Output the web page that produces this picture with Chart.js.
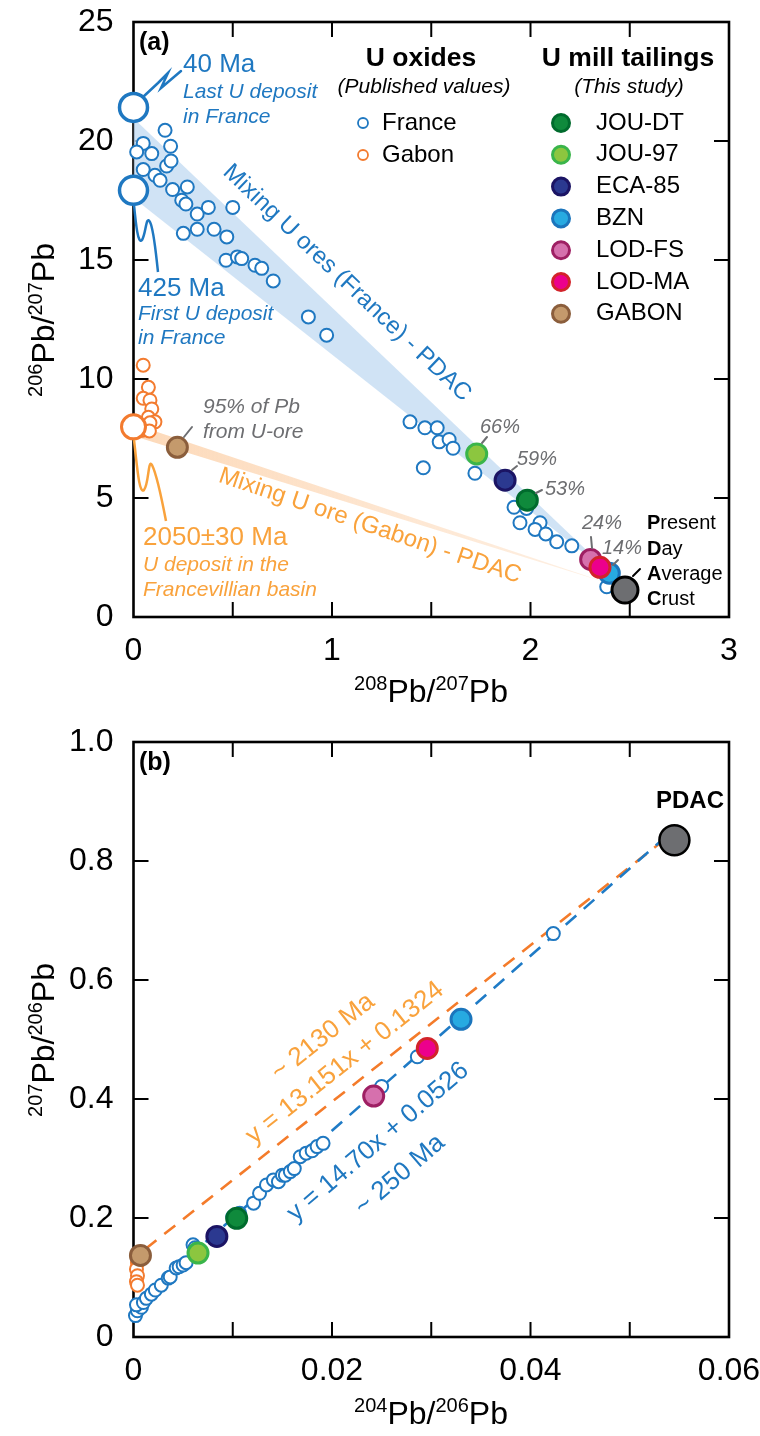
<!DOCTYPE html>
<html><head><meta charset="utf-8">
<script src="https://cdn.jsdelivr.net/npm/chart.js@4.4.1/dist/chart.umd.min.js"></script>
<style>
html,body{margin:0;padding:0;background:#fff;}
#wrap{position:relative;width:760px;height:1436px;overflow:hidden;}
canvas{position:absolute;left:0;}
</style></head><body>
<div id="wrap">
<canvas id="ca" width="820" height="750" style="top:-40px;width:820px;height:750px"></canvas>
<canvas id="cb" width="820" height="750" style="top:690px;width:820px;height:750px"></canvas>
</div>
<script>
// ================= DATA =================
// Panel (a): x = 208Pb/207Pb, y = 206Pb/207Pb
const a_franceOxides = [[0.159,20.45],[0.049,19.90],[0.016,19.54],[0.092,19.47],[0.187,19.78],[0.049,18.80],[0.108,18.56],[0.134,18.35],[0.167,18.95],[0.189,19.16],[0.197,17.96],[0.271,18.07],[0.243,17.51],[0.264,17.35],[0.321,16.93],[0.377,17.21],[0.50,17.21],[0.251,16.12],[0.321,16.29],[0.406,16.29],[0.47,15.97],[0.466,14.99],[0.523,15.13],[0.545,15.06],[0.612,14.78],[0.646,14.65],[0.704,14.12],[0.881,12.61],[0.973,11.84],[1.393,8.20],[1.468,7.95],[1.53,7.95],[1.54,7.36],[1.59,7.46],[1.61,7.09],[1.46,6.27],[1.72,6.04],[1.917,4.61],[1.98,4.56],[1.947,3.96],[2.048,3.96],[2.023,3.68],[2.077,3.49],[2.132,3.16],[2.208,2.99],[2.384,1.27]];
const a_gabonOxides = [[0.049,10.58],[0.075,9.65],[0.049,9.19],[0.083,9.11],[0.092,8.74],[0.075,8.39],[0.108,8.20],[0.083,8.16],[0.046,7.85],[0.080,7.82]];
const a_franceEndmembers = [[0,21.41],[0,17.93]];   // 40 Ma, 425 Ma
const a_gabonEndmember = [[0,7.99]];                // 2050±30 Ma
const tailingNames = ['JOU-DT','JOU-97','ECA-85','BZN','LOD-FS','LOD-MA','GABON'];
const a_tailings = [[1.984,4.91],[1.729,6.85],[1.872,5.75],[2.397,1.84],[2.303,2.42],[2.350,2.09],[0.221,7.13]];
const a_pdac = [[2.476,1.13]];
const a_franceBand = [[0,20.96],[2.44,1.55],[0,17.60]];
const a_gabonBand = [[0,8.11],[2.40,1.40],[0,7.60]];
const a_xTicks = [0,0.5,1,1.5,2,2.5,3];
const a_yTicks = [0,5,10,15,20,25];

// Panel (b): x = 204Pb/206Pb, y = 207Pb/206Pb
const b_franceOxides = [[0.0002,0.036],[0.0004,0.044],[0.0008,0.050],[0.0003,0.054],[0.0010,0.058],[0.0013,0.065],[0.0018,0.072],[0.0022,0.079],[0.0028,0.087],[0.0035,0.099],[0.0037,0.101],[0.0043,0.116],[0.0046,0.118],[0.0050,0.121],[0.0053,0.125],[0.0060,0.155],[0.0062,0.150],[0.0100,0.202],[0.0107,0.208],[0.0121,0.225],[0.0127,0.2415],[0.0134,0.2555],[0.0141,0.264],[0.0146,0.261],[0.0150,0.272],[0.0153,0.272],[0.0158,0.278],[0.0162,0.283],[0.0168,0.303],[0.0174,0.309],[0.0180,0.313],[0.0185,0.320],[0.0191,0.3255],[0.0250,0.421],[0.0286,0.471],[0.0423,0.678]];
const b_gabonOxides = [[0.0004,0.125],[0.0003,0.114],[0.0004,0.103],[0.0003,0.093],[0.0004,0.087]];
const b_tailings = [[0.0104,0.1995],[0.0065,0.141],[0.0084,0.169],[0.0330,0.534],[0.0242,0.405],[0.0296,0.485],[0.0007,0.137]];
const b_pdac = [[0.0545,0.835]];
const b_fitGabon = [[0.0012,0.148],[0.0535,0.836]];   // y = 13.151x + 0.1324
const b_fitFrance = [[0.0000,0.053],[0.0535,0.839]];  // y = 14.70x + 0.0526
const b_xTicks = [0,0.01,0.02,0.03,0.04,0.05,0.06];
const b_yTicks = [0,0.2,0.4,0.6,0.8,1.0];

// ================= STYLE =================
const FONT = '"Liberation Sans", Arial, Helvetica, sans-serif';
const BLUE = '#1f78c1', ORANGE = '#f37b2f', LORANGE = '#f9a23c', GRAY = '#6d6e71';
const tailFill = ['#0f8a3c','#8cc63f','#2b3990','#27aae1','#d670ad','#ec008c','#c49a6c'];
const tailBorder = ['#006b2d','#3ab54a','#1b1464','#1b75bc','#9e1f63','#d2232a','#8b5e3c'];

const pts = arr => arr.map(p => ({x:p[0], y:p[1]}));

function txt(c, s, x, y, o){
  o = o||{};
  c.save();
  c.font = (o.style||'normal')+' '+(o.weight||'normal')+' '+(o.size||20)+'px '+FONT;
  c.fillStyle = o.color||'#000';
  c.textAlign = o.align||'left';
  c.textBaseline = 'middle';
  c.translate(x,y);
  if (o.rot) c.rotate(o.rot*Math.PI/180);
  c.fillText(s,0,0);
  c.restore();
}
function isoTitle(c, segs, cx, cy, rot){
  const big=32, small=20;
  c.save(); c.translate(cx,cy); c.rotate(rot*Math.PI/180);
  c.fillStyle='#000'; c.textBaseline='alphabetic';
  let w=0;
  segs.forEach(s=>{c.font=(s[1]?small:big)+'px '+FONT; s.w=c.measureText(s[0]).width; w+=s.w;});
  let x=-w/2; const base=0.36*big;
  segs.forEach(s=>{c.font=(s[1]?small:big)+'px '+FONT;
    c.fillText(s[0], x, s[1] ? base-0.716*big+0.716*small-3 : base); x+=s.w;});
  c.restore();
}
function line(c, p, color, w){
  c.save(); c.strokeStyle=color; c.lineWidth=w||2; c.lineCap='round';
  c.beginPath(); c.moveTo(p[0][0],p[0][1]);
  for(let i=1;i<p.length;i++) c.lineTo(p[i][0],p[i][1]);
  c.stroke(); c.restore();
}

const framePlugin = {
  id:'frame',
  beforeDatasetsDraw(chart){
    const c=chart.ctx, a=chart.chartArea, X=chart.scales.x, Y=chart.scales.y;
    c.save(); c.strokeStyle='#000'; c.lineWidth=2;
    const L=15;
    X.ticks.forEach(t=>{ if(t.value<=X.min||t.value>=X.max) return;
      const p=X.getPixelForValue(t.value);
      c.beginPath(); c.moveTo(p,a.bottom); c.lineTo(p,a.bottom-L); c.moveTo(p,a.top); c.lineTo(p,a.top+L); c.stroke();});
    Y.ticks.forEach(t=>{ if(t.value<=Y.min||t.value>=Y.max) return;
      const p=Y.getPixelForValue(t.value);
      c.beginPath(); c.moveTo(a.left,p); c.lineTo(a.left+L,p); c.moveTo(a.right,p); c.lineTo(a.right-L,p); c.stroke();});
    c.lineWidth=2.6;
    c.strokeRect(a.left,a.top,a.right-a.left,a.bottom-a.top);
    c.restore();
  }
};

function scaleOpts(min,max,ticksArr,fmt,isX,size){
  return {
    type:'linear', min:min, max:max,
    afterBuildTicks: s => { s.ticks = ticksArr.map(v=>({value:v})); },
    afterFit: s => { if(isX) s.height=size; else s.width=size; },
    grid:{display:false, drawTicks:false},
    border:{display:false},
    ticks:{ autoSkip:false, maxRotation:0, padding: isX?15:20, color:'#000',
      font:{family:FONT,size:32}, callback: fmt }
  };
}

function fitArea(chart, pad, want){
  for(let i=0;i<6;i++){
    const a=chart.chartArea;
    const dT=want.top-a.top, dR=a.right-want.right, dB=a.bottom-want.bottom, dL=want.left-a.left;
    if(Math.abs(dT)+Math.abs(dR)+Math.abs(dB)+Math.abs(dL)<0.3) break;
    pad.top=Math.max(0,pad.top+dT); pad.right=Math.max(0,pad.right+dR);
    pad.bottom=Math.max(0,pad.bottom+dB); pad.left=Math.max(0,pad.left+dL);
    chart.update('none');
  }
}

// ================= PANEL A =================
const dsA = [];
dsA.push({type:'line', data:pts(a_franceBand), fill:'shape', backgroundColor:'rgba(196,220,243,0.8)', borderWidth:0, pointRadius:0, order:30, clip:false});
dsA.push({type:'line', data:pts(a_gabonBand), fill:'shape', borderWidth:0, pointRadius:0, order:29, clip:false,
  backgroundColor: (ctx)=>{ const ch=ctx.chart, ar=ch.chartArea; if(!ar) return 'rgba(252,210,170,0.6)';
    const g=ch.ctx.createLinearGradient(ar.left,0,ch.scales.x.getPixelForValue(2.4),0);
    g.addColorStop(0,'rgba(252,208,168,0.8)'); g.addColorStop(1,'rgba(252,208,168,0.3)'); return g; }});
dsA.push({label:'France', data:pts(a_franceOxides), pointRadius:6.5, borderWidth:2, borderColor:BLUE, backgroundColor:'#fff', order:8, clip:false});
dsA.push({label:'Gabon', data:pts(a_gabonOxides), pointRadius:6.5, borderWidth:2, borderColor:ORANGE, backgroundColor:'#fff', order:8, clip:false});
dsA.push({data:pts(a_franceEndmembers), pointRadius:14, borderWidth:3.5, borderColor:BLUE, backgroundColor:'#fff', order:7, clip:false});
dsA.push({data:pts(a_gabonEndmember), pointRadius:12, borderWidth:3, borderColor:ORANGE, backgroundColor:'#fff', order:7, clip:false});
tailingNames.forEach((n,i)=>dsA.push({label:n, data:pts([a_tailings[i]]), pointRadius:10, borderWidth:3, borderColor:tailBorder[i], backgroundColor:tailFill[i], order:5-i*0.1, clip:false}));
dsA.push({label:'PDAC', data:pts(a_pdac), pointRadius:13, borderWidth:3, borderColor:'#000', backgroundColor:GRAY, order:1, clip:false});

const annotA = {
  id:'annotA',
  afterDraw(chart){
    const c=chart.ctx;
    c.save(); c.translate(0,40); // page coordinates
    isoTitle(c, [['206',1],['Pb/',0],['207',1],['Pb',0]], 42, 320, -90);
    isoTitle(c, [['208',1],['Pb/',0],['207',1],['Pb',0]], 431, 690, 0);
    txt(c,'(a)',139,43,{size:25,weight:'bold'});
    // France endmembers
    txt(c,'40 Ma',183,65,{size:26,color:BLUE});
    txt(c,'Last U deposit',183,92,{size:21,style:'italic',color:BLUE});
    txt(c,'in France',183,117,{size:21,style:'italic',color:BLUE});
    line(c,[[143,97],[158,83],[168,73],[161,88],[181,71]],BLUE,2.5);
    txt(c,'425 Ma',138,289,{size:26,color:BLUE});
    txt(c,'First U deposit',138,314,{size:21,style:'italic',color:BLUE});
    txt(c,'in France',138,338,{size:21,style:'italic',color:BLUE});
    c.save(); c.strokeStyle=BLUE; c.lineWidth=2.5; c.beginPath();
    c.moveTo(134,205); c.bezierCurveTo(136,225,138,245,142,240); c.bezierCurveTo(146,234,146,214,150,222); c.bezierCurveTo(154,230,156,255,158,272); c.stroke(); c.restore();
    // Gabon endmember
    txt(c,'2050\u00B130 Ma',143,538,{size:26,color:LORANGE});
    txt(c,'U deposit in the',143,565,{size:21,style:'italic',color:LORANGE});
    txt(c,'Francevillian basin',143,590,{size:21,style:'italic',color:LORANGE});
    c.save(); c.strokeStyle=LORANGE; c.lineWidth=2.5; c.beginPath();
    c.moveTo(134,440); c.bezierCurveTo(137,465,139,495,144,490); c.bezierCurveTo(149,484,148,458,152,465); c.bezierCurveTo(157,475,162,500,166,521); c.stroke(); c.restore();
    txt(c,'95% of Pb',203,407,{size:21,style:'italic',color:GRAY});
    txt(c,'from U-ore',203,432,{size:21,style:'italic',color:GRAY});
    line(c,[[184,437],[192,427]],GRAY,2);
    // mixing labels
    txt(c,'Mixing U ores (France) - PDAC',347,283,{size:24,color:BLUE,align:'center',rot:43.5});
    txt(c,'Mixing U ore (Gabon) - PDAC',370,526,{size:24,color:LORANGE,align:'center',rot:18.7});
    // percentages
    const pc=[['66%',500,427,[[482,443],[487,437]]],['59%',537,459,[[512,470],[517,466]]],['53%',565,489,[[536,493],[542,490]]],['24%',602,523,[[591,537],[592,548]]],['14%',622,548,[[613,565],[618,560]]]];
    pc.forEach(p=>{ txt(c,p[0],p[1],p[2],{size:20,style:'italic',color:GRAY,align:'center'}); line(c,p[3],GRAY,2); });
    line(c,[[633,576],[640,569]],'#000',2);
    const pd=[['P','resent',523],['D','ay',549],['A','verage',574],['C','rust',599]];
    pd.forEach(p=>{ c.save(); c.font='bold 20px '+FONT; const w=c.measureText(p[0]).width; c.restore();
      txt(c,p[0],647,p[2],{size:20,weight:'bold'}); txt(c,p[1],647+w,p[2],{size:20}); });
    // legend
    txt(c,'U oxides',421,59,{size:26.5,weight:'bold',align:'center'});
    txt(c,'(Published values)',424,87,{size:21,style:'italic',align:'center'});
    const circ=(x,y,r,f,s,w)=>{c.save();c.beginPath();c.arc(x,y,r,0,Math.PI*2);c.fillStyle=f;c.fill();c.lineWidth=w;c.strokeStyle=s;c.stroke();c.restore();};
    circ(363,123,5,'#fff',BLUE,1.8); txt(c,'France',382,123,{size:24});
    circ(363,155,5,'#fff',ORANGE,1.8); txt(c,'Gabon',382,155,{size:24});
    txt(c,'U mill tailings',628,59,{size:26.5,weight:'bold',align:'center'});
    txt(c,'(This study)',629,87,{size:21,style:'italic',align:'center'});
    tailingNames.forEach((n,i)=>{ const y=123+i*31.8; circ(561,y,8.5,tailFill[i],tailBorder[i],3); txt(c,n,596,y,{size:24}); });
    c.restore();
  }
};

const padA = {left:0,right:91,top:62,bottom:0};
const chartA = new Chart(document.getElementById('ca'), {
  type:'scatter',
  data:{datasets:dsA},
  options:{
    responsive:false, animation:false, devicePixelRatio:1,
    layout:{padding:padA},
    plugins:{legend:{display:false}, tooltip:{enabled:false}},
    scales:{
      x: scaleOpts(0,3,a_xTicks, v => Number.isInteger(v)? String(v) : '', true, 93),
      y: scaleOpts(0,25,a_yTicks, v => String(v), false, 133)
    }
  },
  plugins:[framePlugin, annotA]
});
fitArea(chartA, padA, {left:133.5, right:729, top:62, bottom:657});

// ================= PANEL B =================
const dsB = [];
dsB.push({type:'line', data:pts(b_fitGabon), borderColor:'#f47b2a', borderWidth:2.6, borderDash:[14,10], pointRadius:0, fill:false, order:30, clip:false});
dsB.push({type:'line', data:pts(b_fitFrance), borderColor:'#1f7bc6', borderWidth:2.6, borderDash:[14,10], pointRadius:0, fill:false, order:29, clip:false});
dsB.push({label:'France', data:pts(b_franceOxides), pointRadius:6.5, borderWidth:2, borderColor:BLUE, backgroundColor:'#fff', order:8, clip:false});
dsB.push({label:'Gabon', data:pts(b_gabonOxides), pointRadius:6.5, borderWidth:2, borderColor:ORANGE, backgroundColor:'#fff', order:8, clip:false});
tailingNames.forEach((n,i)=>dsB.push({label:n, data:pts([b_tailings[i]]), pointRadius:10, borderWidth:3, borderColor:tailBorder[i], backgroundColor:tailFill[i], order:5-i*0.1, clip:false}));
dsB.push({label:'PDAC', data:pts(b_pdac), pointRadius:15, borderWidth:2.5, borderColor:'#000', backgroundColor:GRAY, order:1, clip:false});

const annotB = {
  id:'annotB',
  afterDraw(chart){
    const c=chart.ctx;
    c.save(); c.translate(0,-690); // page coordinates
    isoTitle(c, [['207',1],['Pb/',0],['206',1],['Pb',0]], 42, 1040, -90);
    isoTitle(c, [['204',1],['Pb/',0],['206',1],['Pb',0]], 431, 1412, 0);
    txt(c,'(b)',139,763,{size:25,weight:'bold'});
    txt(c,'PDAC',690,801,{size:24,weight:'bold',align:'center'});
    txt(c,'~ 2130 Ma',323,1037,{size:26,color:LORANGE,align:'center',rot:-38.5});
    txt(c,'y = 13.151x + 0.1324',345,1063,{size:26,color:LORANGE,align:'center',rot:-38.5});
    txt(c,'y = 14.70x + 0.0526',378,1142,{size:26,color:BLUE,align:'center',rot:-40.6});
    txt(c,'~ 250 Ma',400,1175,{size:26,color:BLUE,align:'center',rot:-40.6});
    c.restore();
  }
};

const padB = {left:0,right:91,top:52,bottom:0};
const chartB = new Chart(document.getElementById('cb'), {
  type:'scatter',
  data:{datasets:dsB},
  options:{
    responsive:false, animation:false, devicePixelRatio:1,
    layout:{padding:padB},
    plugins:{legend:{display:false}, tooltip:{enabled:false}},
    scales:{
      x: scaleOpts(0,0.06,b_xTicks, v => { const k=Math.round(v*100); return v===0?'0':(k%2===0? v.toFixed(2):''); }, true, 103),
      y: scaleOpts(0,1,b_yTicks, v => v===0?'0':v.toFixed(1), false, 133)
    }
  },
  plugins:[framePlugin, annotB]
});
fitArea(chartB, padB, {left:133.5, right:729, top:52, bottom:647});
</script>
</body></html>
